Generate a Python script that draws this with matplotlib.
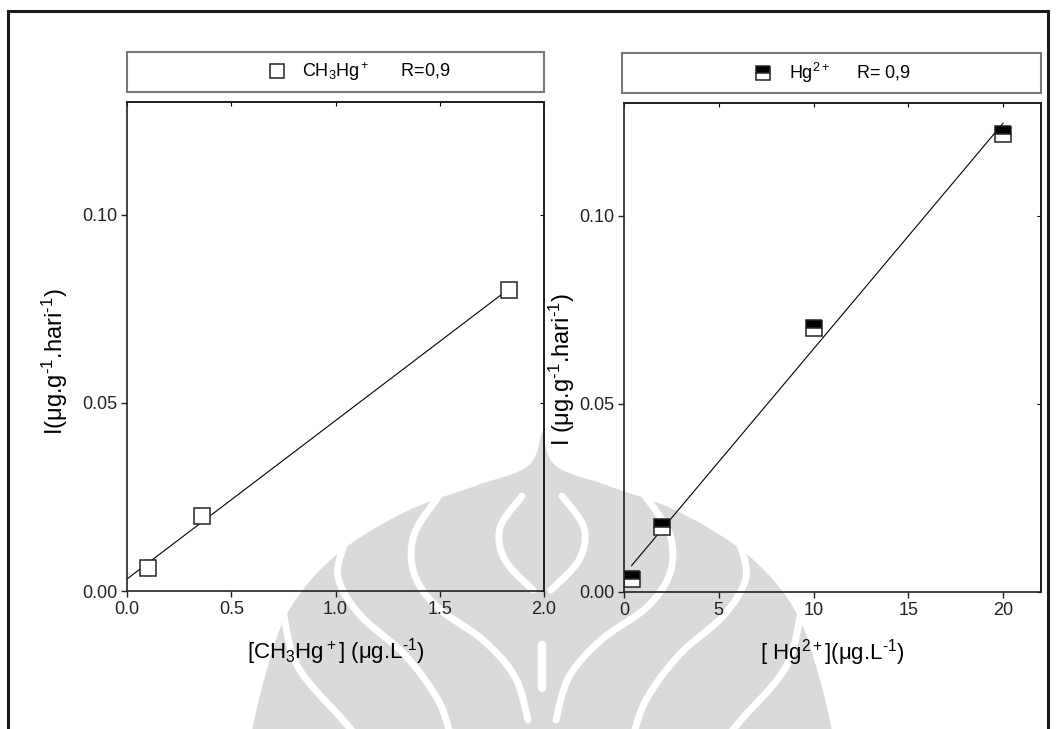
import numpy as np
import matplotlib.pyplot as plt
from matplotlib.path import Path
from matplotlib.patches import PathPatch, Rectangle
from matplotlib.lines import Line2D

plt.rcParams['font.family'] = ['Liberation Sans', 'DejaVu Sans']
plt.rcParams['mathtext.fontset'] = 'custom'
plt.rcParams['mathtext.rm'] = 'Liberation Sans'
plt.rcParams['mathtext.it'] = 'Liberation Sans:italic'
plt.rcParams['mathtext.default'] = 'regular'

# uptake rate vs. concentration
ch3_conc = [0.10, 0.36, 1.83]
ch3_rate = [0.006, 0.020, 0.080]
hg_conc = [0.4, 2.0, 10.0, 20.0]
hg_rate = [0.0035, 0.0173, 0.0703, 0.1218]

ch3_ticks = [0.0, 0.5, 1.0, 1.5, 2.0]
hg_ticks = [0, 5, 10, 15, 20]
rate_ticks = [0.00, 0.05, 0.10]

W, H = 1057, 729
fig = plt.figure(figsize=(W / 100, H / 100), dpi=100)

# faint emblem in the background
bg = fig.add_axes([0, 0, 1, 1], zorder=-1)
bg.set_xlim(0, W)
bg.set_ylim(H, 0)
bg.axis('off')
GRAY = '#dadada'


def mirror(pts):
    return [(1084 - x, y) for x, y in pts]


def smooth(pts, n=20):
    # Catmull-Rom through the given points
    p = np.array(pts, dtype=float)
    p = np.vstack([p[0], p, p[-1]])
    out = []
    for i in range(1, len(p) - 2):
        p0, p1, p2, p3 = p[i - 1], p[i], p[i + 1], p[i + 2]
        for t in np.linspace(0, 1, n, endpoint=False):
            t2, t3 = t * t, t * t * t
            out.append(0.5 * ((2 * p1) + (-p0 + p2) * t
                              + (2 * p0 - 5 * p1 + 4 * p2 - p3) * t2
                              + (-p0 + 3 * p1 - 3 * p2 + p3) * t3))
    out.append(p[-2])
    return np.array(out)


dome_left = [(542, 432), (528, 466), (475, 486), (405, 512), (335, 556),
             (288, 612), (264, 680), (250, 740)]
left_side = smooth(dome_left)
right_side = smooth(mirror(dome_left))[::-1]
dome = np.vstack([left_side, right_side])
bg.add_patch(PathPatch(Path(dome), facecolor=GRAY, edgecolor='none'))

strokes = [
    [(438, 497), (414, 535), (414, 573), (437, 607), (483, 640), (515, 677), (528, 720)],
    [(345, 542), (338, 577), (360, 615), (405, 655), (438, 700), (452, 740)],
    [(283, 612), (298, 667), (343, 720), (360, 740)],
    [(522, 496), (500, 528), (505, 560), (533, 590)],
]
for s in strokes:
    for pts in (s, mirror(s)):
        c = smooth(pts)
        bg.plot(c[:, 0], c[:, 1], color='white', lw=5, solid_capstyle='round')
bg.plot([542, 542], [645, 688], color='white', lw=6, solid_capstyle='round')

# outer frame
for xs, ys in [([8, 8], [H, 11]), ([8, 1048], [11, 11]), ([1048, 1048], [11, H])]:
    fig.add_artist(Line2D([x / W for x in xs], [1 - y / H for y in ys],
                          transform=fig.transFigure, color='#1a1a1a', lw=2.2))

ax1 = fig.add_axes([127 / W, 1 - 591 / H, 417 / W, 489 / H], zorder=1)
ax2 = fig.add_axes([624 / W, 1 - 592 / H, 417 / W, 489 / H], zorder=1)

for ax in (ax1, ax2):
    ax.set_facecolor('none')
    for sp in ax.spines.values():
        sp.set_linewidth(1.2)
        sp.set_color('#222222')
    ax.tick_params(direction='out', length=4, width=1, labelsize=13, pad=3,
                   colors='#222222')
    ax.set_ylim(0, 0.13)
    ax.set_yticks(rate_ticks)
    ax.set_yticklabels([f'{v:.2f}' for v in rate_ticks])

# left panel: CH3Hg+
ax1.set_xlim(0, 2.0)
ax1.set_xticks(ch3_ticks)
ax1.set_xticklabels([f'{v:.1f}' for v in ch3_ticks])
k, b = np.polyfit(ch3_conc, ch3_rate, 1)
fx = np.array([0, max(ch3_conc)])
ax1.plot(fx, k * fx + b, color='black', lw=0.8)
ax1.plot(ch3_conc, ch3_rate, ls='none', marker='s', ms=12, mfc='white',
         mec='#222222', mew=1.1, label='CH$_3$Hg$^+$      R=0,9')
ax1.set_xlabel('[CH$_3$Hg$^+$] (μg.L$^{‐1}$)', fontsize=16, labelpad=13)
ax1.set_ylabel('I(μg.g$^{‐1}$.hari$^{‐1}$)', fontsize=17)
ax1.yaxis.set_label_coords(-0.137, 0.468)

# right panel: Hg2+
ax2.set_xlim(0, 22)
ax2.set_xticks(hg_ticks)
k, b = np.polyfit(hg_conc, hg_rate, 1)
fx = np.array([min(hg_conc), max(hg_conc)])
ax2.plot(fx, k * fx + b, color='black', lw=0.8)
ax2.plot(hg_conc, hg_rate, ls='none', marker='s', ms=12, fillstyle='top',
         mfc='black', mfcalt='white', mec='#222222', mew=1.1,
         label='Hg$^{2+}$     R= 0,9')
ax2.set_xlabel('[ Hg$^{2+}$](μg.L$^{‐1}$)', fontsize=16, labelpad=13)
ax2.set_ylabel('I (μg.g$^{‐1}$.hari$^{‐1}$)', fontsize=17)
ax2.yaxis.set_label_coords(-0.112, 0.455)

# small inward ticks on the top and right spines
for ax, xt in [(ax1, ch3_ticks), (ax2, hg_ticks)]:
    top = ax.secondary_xaxis('top')
    top.set_xticks(xt)
    top.tick_params(direction='in', length=3, labeltop=False)
    right = ax.secondary_yaxis('right')
    right.set_yticks(rate_ticks)
    right.tick_params(direction='in', length=3, labelright=False)
    for sec in (top, right):
        for sp in sec.spines.values():
            sp.set_linewidth(1.2)

# legend boxes above each panel
for ax, x0, w, cx in [(ax1, 0.0, 1.0, 0.558), (ax2, -0.005, 1.005, 0.5)]:
    ax.add_patch(Rectangle((x0, 1.0204), w, 0.0818, transform=ax.transAxes,
                           fill=False, edgecolor='#777777', lw=1.5, clip_on=False))
    ax.legend(loc='center', bbox_to_anchor=(cx, 1.0613), frameon=False,
              fontsize=13, handlelength=1.0, handletextpad=0.9, markerscale=0.8,
              borderaxespad=0, borderpad=0)

fig.savefig('out.png', dpi=100)
